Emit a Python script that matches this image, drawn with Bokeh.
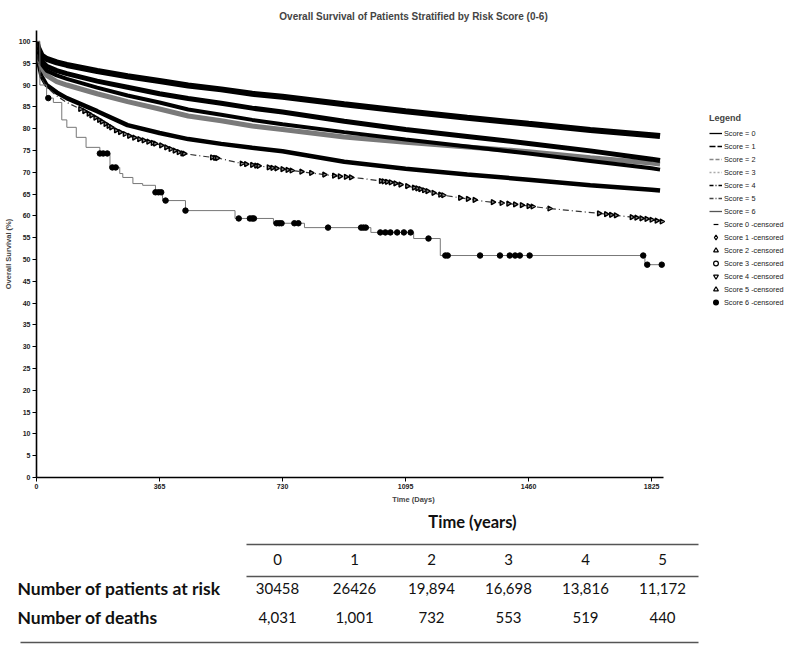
import numpy as np
from bokeh.plotting import figure
from bokeh.models import Range1d, Legend, LegendItem, ColumnDataSource, FixedTicker
from bokeh.layouts import column, row
from bokeh.core.properties import value
from bokeh.embed import file_html
from bokeh.resources import INLINE

# ---------------- data ----------------
TITLE = "Overall Survival of Patients Stratified by Risk Score (0-6)"
x_ticks = [0, 365, 730, 1095, 1460, 1825]
y_ticks = list(range(0, 101, 5))

days = [0, 5, 15, 30, 60, 90, 180, 270, 365, 450, 548, 640, 730, 913, 1095, 1278, 1460, 1643, 1825, 1850]
score0 = [100, 98.5, 96.8, 96.0, 95.2, 94.6, 93.2, 92.0, 90.9, 89.9, 89.0, 88.0, 87.3, 85.6, 84.0, 82.5, 81.1, 79.7, 78.5, 78.3]
score1 = [100, 97.5, 95.5, 94.3, 93.3, 92.6, 90.9, 89.5, 88.0, 86.9, 85.8, 84.7, 83.8, 81.7, 79.8, 78.2, 76.6, 74.9, 73.0, 72.7]
score2 = [100, 97.0, 94.8, 93.3, 92.2, 91.4, 89.4, 87.6, 86.0, 84.4, 83.2, 82.0, 81.0, 79.2, 77.5, 75.9, 74.3, 72.6, 70.9, 70.6]
score3 = [100, 96.5, 94.0, 92.2, 90.8, 90.0, 88.0, 86.2, 84.5, 82.9, 81.8, 80.6, 79.8, 78.1, 76.9, 75.8, 74.7, 73.3, 72.1, 71.9]
score4 = [100, 95.5, 92.0, 90.0, 88.3, 87.0, 84.0, 80.8, 79.0, 77.6, 76.5, 75.6, 74.8, 72.4, 70.8, 69.5, 68.3, 67.0, 66.0, 65.8]

s5_days = [0, 5, 15, 30, 60, 90, 138, 188, 236, 286, 365, 433, 541, 609, 757, 870, 963, 1050, 1130, 1200, 1330, 1400, 1520, 1665, 1810, 1855]
s5_vals = [100, 95.0, 91.5, 89.5, 87.5, 86.0, 84.2, 81.9, 79.6, 78.0, 76.3, 74.3, 73.2, 72.0, 70.4, 69.3, 68.6, 67.7, 66.3, 64.8, 63.3, 62.8, 61.7, 60.6, 59.3, 58.7]
s5_censor = [130, 142, 155, 163, 175, 186, 194, 205, 214, 222, 236, 248, 262, 275, 290, 305, 318, 332, 345, 352,
             370, 385, 398, 410, 422, 433, 438, 521, 530, 536, 609, 622, 640, 652, 659, 689, 700, 712, 730, 745,
             757, 786, 815, 854, 883, 900, 918, 933, 1022, 1030, 1040, 1051, 1065, 1080, 1100, 1120, 1130, 1139,
             1150, 1160, 1178, 1198, 1207, 1257, 1280, 1300, 1354, 1380, 1400, 1420, 1440, 1460, 1472, 1522,
             1669, 1690, 1705, 1719, 1766, 1780, 1795, 1810, 1825, 1840, 1855]

s6_days = [0, 10, 30, 50, 75, 90, 118, 147, 188, 218, 247, 256, 286, 315, 353, 374, 442, 589, 703, 795, 992, 1119, 1198, 1805, 1860]
s6_vals = [100, 90.0, 87.0, 86.0, 82.0, 80.3, 78.0, 75.7, 74.3, 71.1, 69.7, 68.8, 67.4, 67.0, 65.4, 63.5, 61.2, 59.4, 58.3, 57.3, 56.2, 54.8, 50.9, 48.8, 48.8]
s6_censor = [35, 188, 198, 210, 225, 235, 353, 362, 370, 383, 442, 600, 633, 640, 645, 712, 720, 727, 765, 777,
             865, 963, 970, 977, 1020, 1035, 1050, 1070, 1090, 1110, 1163, 1213, 1220, 1316, 1375, 1404, 1420,
             1434, 1463, 1800, 1812, 1855]

legend_lines = ["Score = 0", "Score = 1", "Score = 2", "Score = 3", "Score = 4", "Score = 5", "Score = 6"]
legend_cens = ["Score 0 -censored", "Score 1 -censored", "Score 2 -censored", "Score 3 -censored",
               "Score 4 -censored", "Score 5 -censored", "Score 6 -censored"]

table_title = "Time (years)"
years = ["0", "1", "2", "3", "4", "5"]
row_labels = ["Number of patients at risk", "Number of deaths"]
at_risk = ["30458", "26426", "19,894", "16,698", "13,816", "11,172"]
deaths = ["4,031", "1,001", "732", "553", "519", "440"]

SANS = "Liberation Sans"
TFONT = "Lato"

# ---------------- top chart ----------------
p = figure(frame_width=754, frame_height=447, output_backend="svg", toolbar_location=None,
           x_range=Range1d(0, 2237), y_range=Range1d(0, 102.5), title=TITLE)
p.title.text_font = SANS
p.title.text_font_size = "10px"
p.title.text_font_style = "bold"
p.title.align = "center"
p.title.standoff = 17
p.min_border_top = 0
p.min_border_left = 30
p.min_border_right = 0
p.min_border_bottom = 32
p.xgrid.visible = False
p.ygrid.visible = False
p.outline_line_color = None

p.xaxis.ticker = FixedTicker(ticks=x_ticks)
p.yaxis.ticker = FixedTicker(ticks=y_ticks)
p.xaxis.bounds = (0, 1860)
p.xaxis.axis_label = "Time (Days)"
p.yaxis.axis_label = "Overall Survival (%)"
for ax in (p.xaxis[0], p.yaxis[0]):
    ax.axis_line_width = 1.6
    ax.axis_line_color = "black"
    ax.major_tick_out = 4
    ax.major_tick_in = 0
    ax.major_tick_line_color = "black"
    ax.minor_tick_line_color = None
    ax.major_label_text_font = SANS
    ax.major_label_text_font_size = "7px"
    ax.major_label_text_font_style = "bold"
    ax.major_label_text_color = "#222"
    ax.major_label_standoff = 2
    ax.axis_label_text_font = SANS
    ax.axis_label_text_font_size = "7.5px"
    ax.axis_label_text_font_style = "bold"
    ax.axis_label_standoff = 3

# thick bands (dense censoring marks look like thick bands)
p.line(days, score4, line_color="black", line_width=4.5)
p.line(days, score3, line_color="#7a7a7a", line_width=5)
p.line(days, score2, line_color="black", line_width=4)
p.line(days, score1, line_color="black", line_width=5)
p.line(days, score0, line_color="black", line_width=6)

# score 5: dash-dot line with right-pointing triangles
p.line(s5_days, s5_vals, line_color="#333", line_width=1.2, line_dash="6 3 1 3")
s5_y = np.interp(s5_censor, s5_days, s5_vals)
p.scatter(s5_censor, s5_y, marker="triangle", angle=-np.pi / 2, size=5,
          fill_color="#888888", line_color="black", line_width=1.4)

# score 6: thin grey step line with filled circles
p.step(s6_days, s6_vals, mode="after", line_color="#777", line_width=1)
idx = np.searchsorted(s6_days, s6_censor, side="right") - 1
s6_y = np.array(s6_vals)[idx]
p.scatter(s6_censor, s6_y, marker="circle", size=5.5, fill_color="black", line_color="black")

# legend (renderers that hold no visible point, used only for the icons)
line_styles = [("black", "solid"), ("black", "6 2"), ("#888", "4 2"), ("#aaa", "2 2"),
               ("black", "4 2 1 2"), ("#444", "4 2 1 2"), ("#555", "solid")]
items = []
for lab, (c, d) in zip(legend_lines, line_styles):
    src = ColumnDataSource(data=dict(x=[np.nan], y=[np.nan]))
    r = p.line("x", "y", source=src, line_color=c, line_dash=d, line_width=1.3)
    items.append(LegendItem(label=lab, renderers=[r]))
mk = [("dash", "white", 8), ("diamond", "white", 8), ("triangle", "white", 7),
      ("circle", "white", 8), ("inverted_triangle", "white", 7), ("triangle", "white", 7),
      ("circle", "black", 8)]
for lab, (m, f, s) in zip(legend_cens, mk):
    src = ColumnDataSource(data=dict(x=[np.nan], y=[np.nan]))
    r = p.scatter("x", "y", source=src, marker=m, fill_color=f, line_color="black",
                  size=s, line_width=1.2)
    items.append(LegendItem(label=lab, renderers=[r]))

legend = Legend(items=items, location=(673, 169), title="Legend", margin=0, padding=2, spacing=1,
                glyph_width=13, glyph_height=12, label_height=12, label_standoff=2,
                label_text_font=SANS, label_text_font_size="7.3px", label_text_color="#222",
                title_text_font=SANS, title_text_font_size="9px", title_text_font_style="bold",
                title_standoff=4, border_line_color=None, background_fill_alpha=0)
p.add_layout(legend, "center")

# ---------------- table (coordinates = page pixels) ----------------
t = figure(width=784, height=136, output_backend="svg", toolbar_location=None,
           x_range=Range1d(0, 784), y_range=Range1d(645, 509), x_axis_type=None, y_axis_type=None)
t.min_border = 0
t.min_border_left = 0
t.min_border_right = 0
t.min_border_top = 0
t.min_border_bottom = 0
t.outline_line_color = None
t.xgrid.visible = False
t.ygrid.visible = False

col_x = [277 + 77 * i for i in range(len(years))]
n = len(years)
common = dict(text_baseline="middle", text_font=value(TFONT), text_color="#111")
t.text(x=[472], y=[521], text=[table_title], text_align="center", text_font_style="bold",
       text_font_size="16.5px", **common)
t.text(x=col_x, y=[559] * n, text=years, text_align="center", text_font_size="15px", **common)
t.text(x=col_x, y=[588] * n, text=at_risk, text_align="center", text_font_size="15px", **common)
t.text(x=col_x, y=[617] * n, text=deaths, text_align="center", text_font_size="15px", **common)
t.text(x=[17, 17], y=[588, 617], text=row_labels, text_align="left", text_font_style="bold",
       text_font_size="17.5px", **common)
t.segment(x0=[246, 246, 20], y0=[544, 576, 642], x1=[698, 698, 698], y1=[544, 576, 642],
          line_color="#555", line_width=1.6)

layout = column(p, row(t), spacing=0)
open("out.html", "w").write(file_html(layout, INLINE))
